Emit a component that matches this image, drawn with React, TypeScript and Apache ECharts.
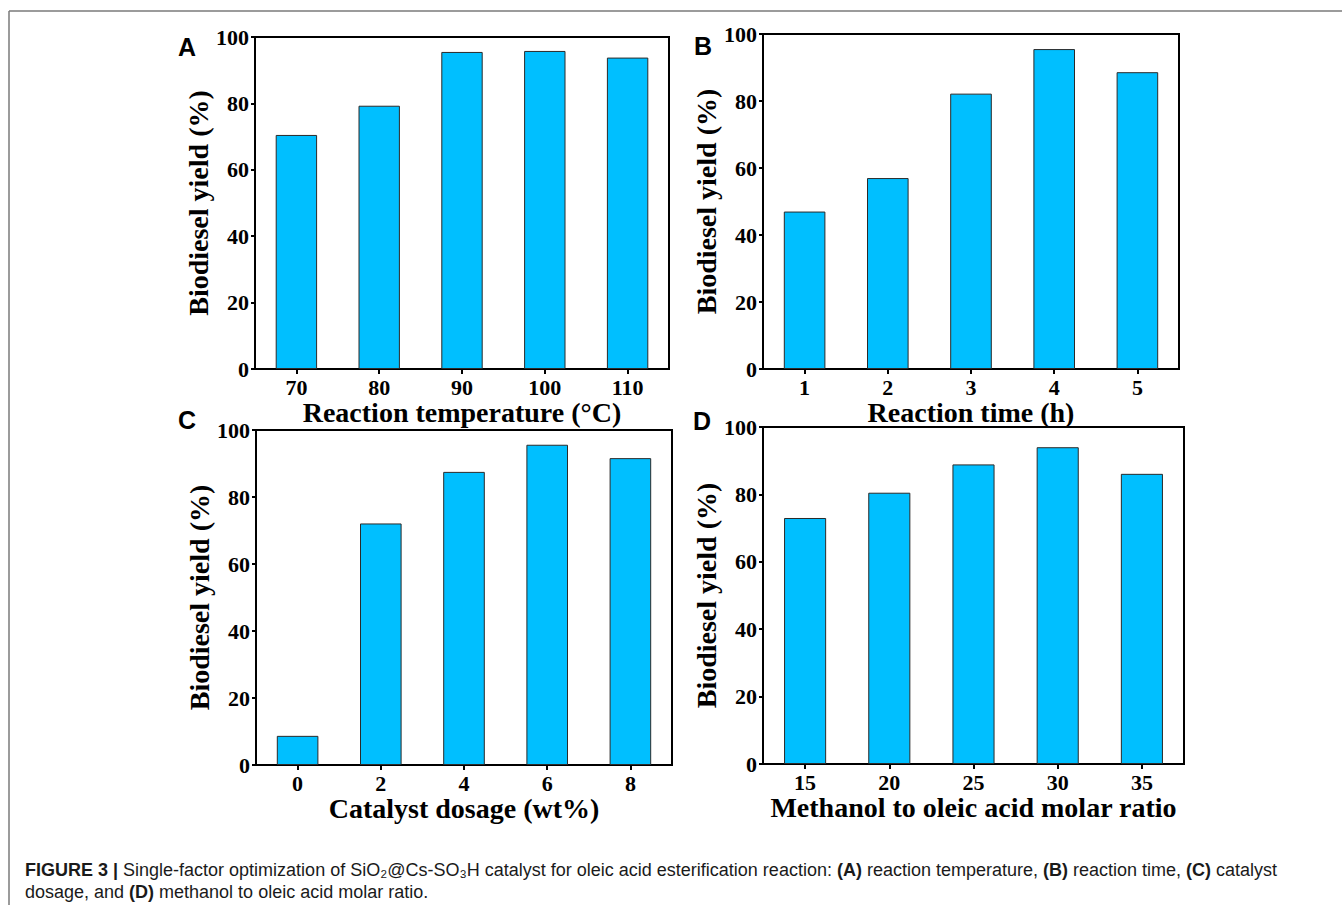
import React, { useEffect, useRef } from "react";
import * as echarts from "echarts";

const tempCategories = ["70", "80", "90", "100", "110"];
const tempYield = [70.5, 79.3, 95.5, 95.8, 93.8];
const timeCategories = ["1", "2", "3", "4", "5"];
const timeYield = [47.0, 57.0, 82.2, 95.5, 88.6];
const dosageCategories = ["0", "2", "4", "6", "8"];
const dosageYield = [8.7, 72.1, 87.5, 95.6, 91.6];
const ratioCategories = ["15", "20", "25", "30", "35"];
const ratioYield = [73.0, 80.5, 88.9, 94.0, 86.1];

const yMin = 0;
const yMax = 100;
const yInterval = 20;

const xTitles = [
  "Reaction temperature (°C)",
  "Reaction time (h)",
  "Catalyst dosage (wt%)",
  "Methanol to oleic acid molar ratio",
];
const yTitle = "Biodiesel yield (%)";
const panelLetters = ["A", "B", "C", "D"];

const SERIF = "'Liberation Serif', 'Times New Roman', serif";
const SANS = "'Liberation Sans', Arial, sans-serif";

export default function App() {
  const ref = useRef<HTMLDivElement>(null);
  useEffect(() => {
    if (!ref.current) return;
    const chart = echarts.init(ref.current, undefined, { renderer: "svg" });

    const panels = [
      { cats: tempCategories, vals: tempYield, grid: { left: 255, top: 37, width: 414, height: 332 }, xGap: 27, yGap: 32, letter: [187, 47] },
      { cats: timeCategories, vals: timeYield, grid: { left: 763, top: 34, width: 416, height: 335 }, xGap: 25, yGap: 32, letter: [703, 46] },
      { cats: dosageCategories, vals: dosageYield, grid: { left: 256, top: 430, width: 416, height: 335 }, xGap: 28, yGap: 33, letter: [187, 420] },
      { cats: ratioCategories, vals: ratioYield, grid: { left: 763, top: 427, width: 421, height: 337 }, xGap: 25, yGap: 32, letter: [702, 421] },
    ];

    const axisLine = { show: true, lineStyle: { color: "#000", width: 2 } };
    const labelStyle = { fontFamily: SERIF, fontWeight: "bold", fontSize: 22, color: "#000" };
    const nameStyle = { fontFamily: SERIF, fontWeight: "bold", fontSize: 28, color: "#000" };

    const option: any = {
      animation: false,
      backgroundColor: "#fff",
      grid: panels.map((p) => ({
        ...p.grid,
        show: true,
        borderColor: "#000",
        borderWidth: 2,
        containLabel: false,
      })),
      xAxis: panels.map((p, i) => ({
        type: "category",
        gridIndex: i,
        data: p.cats,
        axisLine,
        axisTick: { show: true, alignWithLabel: true, length: 5, lineStyle: { color: "#000", width: 2 } },
        axisLabel: { ...labelStyle, margin: 7 },
        splitLine: { show: false },
        name: xTitles[i],
        nameLocation: "middle",
        nameGap: p.xGap,
        nameTextStyle: nameStyle,
      })),
      yAxis: panels.map((p, i) => ({
        type: "value",
        gridIndex: i,
        min: yMin,
        max: yMax,
        interval: yInterval,
        axisLine,
        axisTick: { show: true, length: 4, lineStyle: { color: "#000", width: 2 } },
        axisLabel: { ...labelStyle, margin: 6 },
        splitLine: { show: false },
        name: yTitle,
        nameLocation: "middle",
        nameRotate: 90,
        nameGap: p.yGap,
        nameTextStyle: nameStyle,
      })),
      series: panels.map((p, i) => ({
        type: "bar",
        xAxisIndex: i,
        yAxisIndex: i,
        data: p.vals,
        barWidth: "50%",
        itemStyle: { color: "#00BFFF", borderColor: "#2a2a2a", borderWidth: 1 },
      })),
      graphic: [
        { type: "line", shape: { x1: 9, y1: 11, x2: 1342, y2: 11 }, style: { stroke: "#7a7a7a", lineWidth: 1.5 } },
        { type: "line", shape: { x1: 9, y1: 11, x2: 9, y2: 905 }, style: { stroke: "#7a7a7a", lineWidth: 1.5 } },
        ...panels.map((p, i) => ({
          type: "text",
          x: p.letter[0],
          y: p.letter[1],
          style: {
            text: panelLetters[i],
            fontFamily: SANS,
            fontWeight: "bold",
            fontSize: 25,
            fill: "#000",
            align: "center",
            verticalAlign: "middle",
          },
        })),
        {
          type: "text",
          x: 25,
          y: 870,
          style: {
            text: "{b|FIGURE 3 |} Single-factor optimization of SiO₂@Cs-SO₃H catalyst for oleic acid esterification reaction: {b|(A)} reaction temperature, {b|(B)} reaction time, {b|(C)} catalyst",
            fontFamily: SANS,
            fontSize: 18,
            fill: "#1a1a1a",
            verticalAlign: "middle",
            rich: { b: { fontFamily: SANS, fontSize: 18, fontWeight: "bold", fill: "#1a1a1a" } },
          },
        },
        {
          type: "text",
          x: 25,
          y: 892,
          style: {
            text: "dosage, and {b|(D)} methanol to oleic acid molar ratio.",
            fontFamily: SANS,
            fontSize: 18,
            fill: "#1a1a1a",
            verticalAlign: "middle",
            rich: { b: { fontFamily: SANS, fontSize: 18, fontWeight: "bold", fill: "#1a1a1a" } },
          },
        },
      ],
    };
    chart.setOption(option);
    return () => chart.dispose();
  }, []);
  return (
    <div
      ref={ref}
      style={{ position: "absolute", left: 0, top: 0, width: 1342, height: 905, background: "#fff" }}
    />
  );
}
